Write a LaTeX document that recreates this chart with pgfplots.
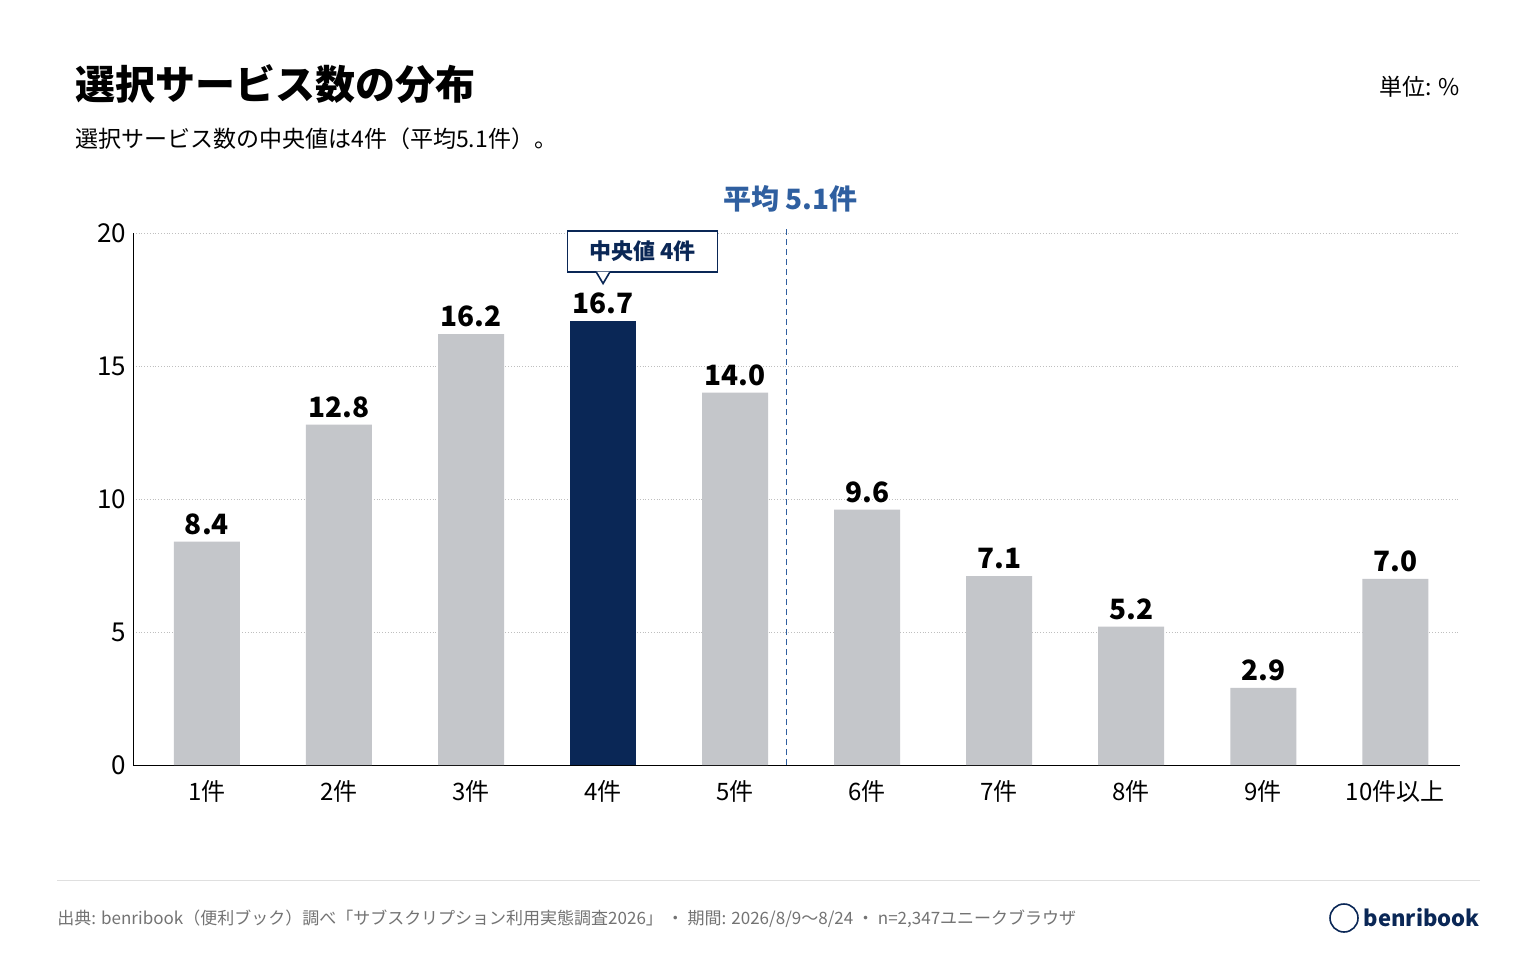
\documentclass[border=0pt]{standalone}
\usepackage{pgfplots}
\pgfplotsset{compat=1.18}
\usepackage{fontspec}
\setmainfont{Noto Sans CJK JP}
\definecolor{navy}{HTML}{0A2756}
\definecolor{barg}{HTML}{C4C6CA}
\definecolor{meanblue}{HTML}{2F5FA0}
\begin{document}
\begin{tikzpicture}
\fill[white] (0pt,0pt) rectangle (768pt,480pt);
\node[anchor=base west,inner sep=0,font=\fontsize{20}{24}\selectfont\bfseries] at (37.5pt,430pt) {選択サービス数の分布};
\node[anchor=base west,inner sep=0,font=\fontsize{11.5}{14}\selectfont] at (37.5pt,406pt) {選択サービス数の中央値は4件（平均5.1件）。};
\node[anchor=base east,inner sep=0,font=\fontsize{11.5}{14}\selectfont] at (730pt,432pt) {単位: \%};
\draw[gray!25] (28.5pt,40pt) -- (740pt,40pt);
\node[anchor=base west,inner sep=0,font=\fontsize{8.5}{10}\selectfont,text=black!55] at (28.5pt,18pt) {出典: benribook（便利ブック）調べ「サブスクリプション利用実態調査2026」\ ・ 期間: 2026/8/9〜8/24 ・ n=2,347ユニークブラウザ};
\node[anchor=base east,inner sep=0,font=\fontsize{11}{13}\selectfont\bfseries,text=navy] at (740pt,17pt) {benribook};
\draw[navy,thick] (672pt,21pt) circle (7pt);
\begin{axis}[at={(66.5pt,97.5pt)},anchor=origin,scale only axis,width=663.5pt,height=266pt,
  xmin=0.44,xmax=10.49,ymin=0,ymax=20,
  ybar,bar width=33pt,bar shift=0pt,
  axis x line*=bottom,axis y line*=left,
  xtick={1,...,10},xticklabels={1件,2件,3件,4件,5件,6件,7件,8件,9件,10件以上},
  ytick={0,5,10,15,20},
  /pgf/number format/assume math mode=true,
  tick style={draw=none},
  ticklabel style={font=\fontsize{12}{14}\selectfont},
  yticklabel style={font=\fontsize{13}{15}\selectfont},
  ymajorgrids,grid style={densely dotted,gray!50},
  nodes near coords,nodes near coords style={font=\fontsize{14}{16}\selectfont\bfseries,/pgf/number format/.cd,fixed,fixed zerofill,precision=1},
  clip=false]
\addplot[fill=barg,draw=none] coordinates {(1,8.4)(2,12.8)(3,16.2)(5,14.0)(6,9.6)(7,7.1)(8,5.2)(9,2.9)(10,7.0)};
\addplot[fill=navy,draw=none] coordinates {(4,16.7)};
\draw[meanblue,densely dashed] (axis cs:5.39,0) -- (axis cs:5.39,20.2);
\node[text=meanblue,font=\fontsize{14}{16}\selectfont\bfseries] at (axis cs:5.42,21.3) {平均 5.1件};
\node[draw=navy,thick,fill=white,inner sep=5pt,font=\fontsize{11}{13}\selectfont\bfseries,text=navy,minimum width=75pt] (cb) at (axis cs:4.3,19.3) {中央値\ 4件};
\fill[white] (axis cs:3.95,18.55) -- (axis cs:4.05,18.55) -- (axis cs:4,18.1) -- cycle;
\draw[navy,thick] (axis cs:3.95,18.52) -- (axis cs:4,18.1) -- (axis cs:4.05,18.52);
\end{axis}
\end{tikzpicture}
\end{document}
